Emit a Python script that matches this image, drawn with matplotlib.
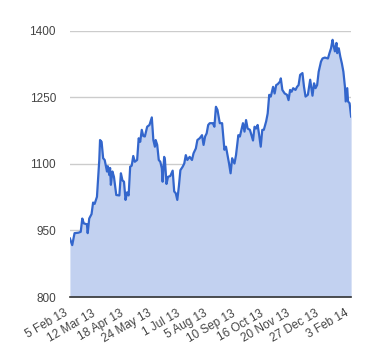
import numpy as np
import matplotlib
matplotlib.use("Agg")
import matplotlib.pyplot as plt

start = np.datetime64('2013-02-05')

# days after 5 Feb 2013, and price
days = [0, 3, 6, 11, 14, 16, 18, 22, 23, 25, 28, 30, 32, 35, 38, 39, 41, 43, 45, 48,
        49, 51, 52, 53, 55, 57, 60, 64, 66, 68, 70, 72, 74, 76, 78, 80, 82, 84, 87, 89,
        91, 93, 95, 97, 100, 103, 105, 106, 108, 110, 111, 113, 115, 117, 119, 120, 122, 123, 125, 127,
        130, 133, 135, 137, 139, 141, 143, 146, 148, 150, 152, 155, 158, 160, 163, 165, 168, 171, 173, 175,
        177, 179, 181, 185, 187, 189, 191, 194, 197, 200, 202, 204, 206, 208, 210, 213, 215, 218, 220, 224,
        226, 228, 230, 233, 237, 239, 241, 243, 245, 247, 249, 251, 254, 256, 258, 260, 263, 265, 267, 269,
        272, 273, 275, 278, 281, 283, 285, 287, 289, 292, 294, 296, 298, 301, 303, 305, 308, 311, 312, 314,
        316, 318, 320, 322, 325, 327, 330, 334, 336, 338, 340, 341, 343, 345, 346, 348, 350, 352, 354, 356,
        357, 359, 360, 362, 364]
values = [932, 917, 944, 945, 947, 977, 966, 964, 944, 977, 987, 1013, 1010, 1026, 1109, 1154, 1150, 1113, 1109, 1083,
          1095, 1075, 1091, 1053, 1083, 1071, 1030, 1029, 1079, 1063, 1060, 1019, 1036, 1029, 1094, 1096, 1118, 1105, 1109, 1158,
          1150, 1177, 1163, 1162, 1184, 1188, 1199, 1205, 1154, 1139, 1154, 1143, 1109, 1105, 1090, 1060, 1116, 1109, 1055, 1071,
          1073, 1085, 1038, 1034, 1019, 1049, 1086, 1094, 1101, 1120, 1109, 1116, 1109, 1124, 1135, 1154, 1158, 1165, 1143, 1162,
          1169, 1188, 1192, 1192, 1184, 1229, 1222, 1192, 1192, 1132, 1139, 1120, 1101, 1079, 1113, 1101, 1120, 1165, 1162, 1192,
          1173, 1199, 1180, 1177, 1153, 1184, 1180, 1188, 1165, 1139, 1177, 1177, 1196, 1214, 1256, 1252, 1274, 1259, 1278, 1280,
          1286, 1293, 1267, 1259, 1256, 1244, 1267, 1263, 1271, 1267, 1274, 1278, 1301, 1305, 1274, 1252, 1256, 1290, 1278, 1254,
          1282, 1271, 1278, 1308, 1331, 1338, 1340, 1338, 1350, 1361, 1380, 1369, 1354, 1373, 1350, 1361, 1342, 1327, 1308, 1274,
          1241, 1271, 1241, 1237, 1207]

tick_dates = ['2013-02-05', '2013-03-12', '2013-04-18', '2013-05-24', '2013-07-01', '2013-08-05',
              '2013-09-10', '2013-10-16', '2013-11-20', '2013-12-27', '2014-02-03']
tick_labels = ['5 Feb 13', '12 Mar 13', '18 Apr 13', '24 May 13', '1 Jul 13', '5 Aug 13',
               '10 Sep 13', '16 Oct 13', '20 Nov 13', '27 Dec 13', '3 Feb 14']
y_ticks = [800, 950, 1100, 1250, 1400]

dates = start + np.array(days).astype('timedelta64[D]')

plt.rcParams['font.family'] = ['Liberation Sans', 'DejaVu Sans']

fig = plt.figure(figsize=(3.8, 3.6), dpi=100)
ax = fig.add_axes([0.184, 0.175, 0.74, 0.739])

ax.fill_between(dates, values, 800, color='#c2d1f0', linewidth=0, zorder=2)
ax.plot(dates, values, color='#3366cc', linewidth=1.6, zorder=3)

ax.set_ylim(800, 1400)
ax.set_xlim(dates[0], dates[-1])
ax.set_yticks(y_ticks)
ax.set_yticklabels([str(v) for v in y_ticks])
ax.set_xticks(np.array(tick_dates, dtype='datetime64[D]'))
ax.set_xticklabels(tick_labels, rotation=30, ha='right')

ax.grid(axis='y', color='#cccccc', linewidth=1, zorder=1)
ax.set_axisbelow(True)
for s in ['top', 'right', 'left']:
    ax.spines[s].set_visible(False)
ax.spines['bottom'].set_color('#333333')
ax.spines['bottom'].set_linewidth(1.2)
ax.spines['bottom'].set_zorder(4)
ax.tick_params(axis='both', length=0, labelsize=8.5, colors='#444444')
ax.tick_params(axis='y', pad=10)
ax.tick_params(axis='x', pad=7.5)

fig.savefig('out.png', dpi=100, facecolor='white')
